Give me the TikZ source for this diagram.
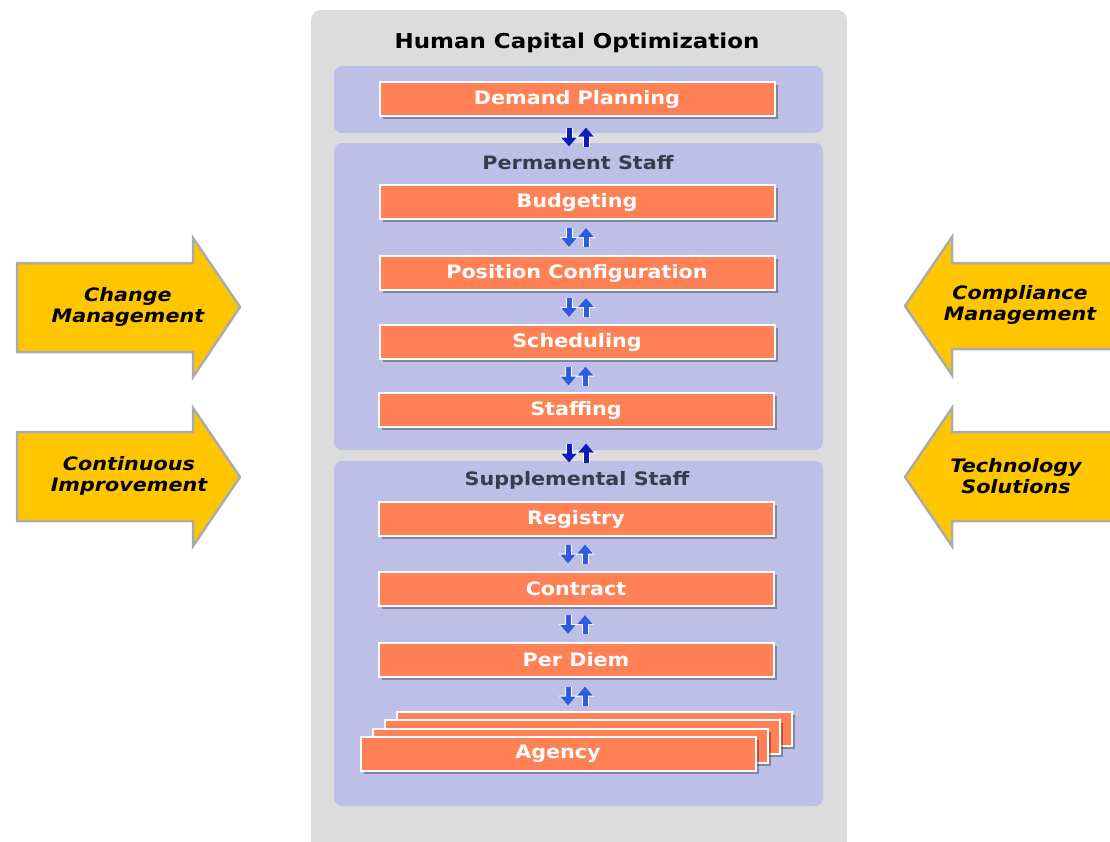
\documentclass[tikz,border=0pt]{standalone}
\usepackage{fontspec}
\setmainfont[FakeStretch=1.12]{DejaVu Sans}
\usetikzlibrary{calc, arrows.meta, shadows}

\definecolor{panelgray}{HTML}{DCDCDC}
\definecolor{lavender}{HTML}{BDBFE6}
\definecolor{coral}{HTML}{FF8155}
\definecolor{gold}{HTML}{FFC600}
\definecolor{rimgray}{HTML}{ABABAB}
\definecolor{navyblue}{HTML}{0B1FB8}
\definecolor{midblue}{HTML}{2F5CDC}
\definecolor{headgray}{HTML}{3B3B4B}

\tikzset{
    stepbox/.style={draw=white, fill=coral, line width=2pt,
        minimum width=395pt, minimum height=34pt, inner sep=0pt,
        text=white, font=\bfseries\fontsize{18.5}{21}\selectfont,
        drop shadow={shadow xshift=3pt, shadow yshift=-3pt, fill=black, opacity=.3}},
    headtext/.style={text=headgray, font=\bfseries\fontsize{18.5}{21}\selectfont},
    sidearrow/.style={fill=gold, draw=rimgray, line width=2.5pt, line join=miter},
    sidetext/.style={align=center, font=\bfseries\itshape\fontsize{18.5}{21}\selectfont},
    flow/.style={line width=5pt, -{Triangle[length=9pt,width=15pt]},
        preaction={draw=white, line width=7pt, -{Triangle[length=10pt,width=18pt]}}}
}

% down/up arrow pair around a named coordinate
\newcommand\flowpair[2]{%
    \draw[flow, draw=#2] ($(#1)+(-8,-9.5)$) -- ($(#1)+(-8,9.5)$);
    \draw[flow, draw=#2] ($(#1)+(9,9.5)$) -- ($(#1)+(9,-9.5)$);
}

\begin{document}
\begin{tikzpicture}[x=1pt, y=-1pt, thick, >=stealth]

    \useasboundingbox (0,0) rectangle (1110,841);
    \clip (0,0) rectangle (1110,841);

    % --- Outer gray panel ---
    \fill[panelgray, rounded corners=10pt] (311,10) rectangle (847,880);
    \node[font=\bfseries\fontsize{20.5}{23}\selectfont] (hco) at (577,43) {Human Capital Optimization};

    % --- Lavender panels ---
    \fill[lavender, rounded corners=8pt] (334,66) rectangle (823,133);
    \fill[lavender, rounded corners=8pt] (334,143) rectangle (823,450);
    \fill[lavender, rounded corners=8pt] (334,461) rectangle (823,806);

    \node[headtext] (perm) at (578,163) {Permanent Staff};
    \node[headtext] (supp) at (577,480) {Supplemental Staff};

    % --- Demand ---
    \node[stepbox] (demand) at (577,99) {Demand Planning};

    % --- Permanent staff steps ---
    \node[stepbox] (budget) at (577,202) {Budgeting};
    \node[stepbox] (poscfg) at (577,273) {Position Configuration};
    \node[stepbox] (sched) at (577,342) {Scheduling};
    \node[stepbox] (staffing) at (576,410) {Staffing};

    % --- Supplemental staff steps ---
    \node[stepbox] (registry) at (576,519) {Registry};
    \node[stepbox] (contract) at (576,589) {Contract};
    \node[stepbox] (perdiem) at (576,660) {Per Diem};

    % stacked agency cards, back to front
    \foreach \i in {3,2,1}
        \node[stepbox] at ({558+12*\i},{754-8.5*\i}) {};
    \node[stepbox] (agency) at (558,754) {Agency};

    % --- Up/down arrows between steps ---
    \coordinate (g0) at (577,137);
    \coordinate (g1) at ($(budget.south)!.5!(poscfg.north)$);
    \coordinate (g2) at ($(poscfg.south)!.5!(sched.north)$);
    \coordinate (g3) at ($(sched.south)!.5!(staffing.north)$);
    \coordinate (g4) at (577,453);
    \coordinate (g5) at ($(registry.south)!.5!(contract.north)$);
    \coordinate (g6) at ($(contract.south)!.5!(perdiem.north)$);
    \coordinate (g7) at ($(perdiem.south)+(0,18)$);

    \flowpair{g0}{navyblue}
    \flowpair{g1}{midblue}
    \flowpair{g2}{midblue}
    \flowpair{g3}{midblue}
    \flowpair{g4}{navyblue}
    \flowpair{g5}{midblue}
    \flowpair{g6}{midblue}
    \flowpair{g7}{midblue}

    % --- Side arrows (left, pointing in) ---
    \draw[sidearrow] (17,263) -- (193,263) -- (193,238) -- (240,307) -- (193,377) -- (193,352) -- (17,352) -- cycle;
    \node[sidetext] (change) at (128,307) {Change\\Management};

    \draw[sidearrow] (17,432) -- (193,432) -- (193,408) -- (240,477) -- (193,546) -- (193,521) -- (17,521) -- cycle;
    \node[sidetext] (improve) at (129,476) {Continuous\\Improvement};

    % --- Side arrows (right, pointing in) ---
    \draw[sidearrow] (1125,263) -- (952,263) -- (952,237) -- (905,306) -- (952,375) -- (952,349) -- (1125,349) -- cycle;
    \node[sidetext] (comply) at (1020,305) {Compliance\\Management};

    \draw[sidearrow] (1125,432) -- (952,432) -- (952,408) -- (905,477) -- (952,546) -- (952,521) -- (1125,521) -- cycle;
    \node[sidetext] (tech) at (1016,476) {Technology\\Solutions};

\end{tikzpicture}
\end{document}
